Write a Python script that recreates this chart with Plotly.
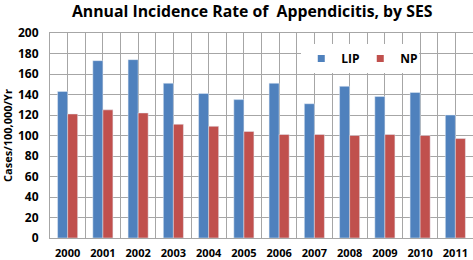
import plotly.graph_objects as go

years = ["2000", "2001", "2002", "2003", "2004", "2005", "2006", "2007", "2008", "2009", "2010", "2011"]
lip = [143, 173, 174, 151, 141, 135, 151, 131, 148, 138, 142, 120]
np_vals = [121, 125, 122, 111, 109, 104, 101, 101, 100, 101, 100, 97]
y_ticks = [0, 20, 40, 60, 80, 100, 120, 140, 160, 180, 200]

BLUE = "#4F81BD"
RED = "#C0504D"
GRID = "#A6A6A6"
FONT = "Open Sans"

xs = [int(y) for y in years]

fig = go.Figure()
fig.add_trace(go.Bar(x=xs, y=lip, name="LIP", marker_color=BLUE, showlegend=False))
fig.add_trace(go.Bar(x=xs, y=np_vals, name="NP", marker_color=RED, showlegend=False))
# legend proxies with small square markers
fig.add_trace(go.Scatter(x=[None], y=[None], mode="markers", name="<b>LIP</b>",
                         marker=dict(symbol="square", size=7, color=BLUE)))
fig.add_trace(go.Scatter(x=[None], y=[None], mode="markers", name="<b>NP</b>",
                         marker=dict(symbol="square", size=7, color=RED)))

fig.update_layout(
    width=473, height=260,
    margin=dict(l=50, r=0, t=33, b=22, autoexpand=False),
    paper_bgcolor="white", plot_bgcolor="white",
    barmode="group", bargap=0.43, bargroupgap=0,
    font=dict(family=FONT, color="black"),
    title=dict(text="<b>Annual Incidence Rate of&nbsp; Appendicitis, by SES</b>",
               xref="paper", x=0.478, xanchor="center", y=0.955, yanchor="middle",
               font=dict(size=15.8, family=FONT)),
    legend=dict(orientation="h", x=0.594, y=0.946, xanchor="left", yanchor="top",
                bgcolor="white", font=dict(size=12, family=FONT),
                entrywidth=14, entrywidthmode="pixels", itemwidth=30),
    xaxis=dict(range=[1999.5, 2011.5], tickvals=xs, ticktext=[f"<b>{y}</b>" for y in years],
               showgrid=True, gridcolor=GRID, gridwidth=1,
               minor=dict(dtick=0.5, tick0=1999.5, showgrid=True, gridcolor=GRID, gridwidth=1),
               showline=True, linecolor=GRID, mirror=True, ticks="",
               tickfont=dict(size=11, family=FONT), zeroline=False, ticklabelstandoff=5),
    yaxis=dict(range=[0, 200], tickvals=y_ticks, ticktext=[f"<b>{v}</b>" for v in y_ticks],
               showgrid=True, gridcolor=GRID, gridwidth=1,
               showline=True, linecolor=GRID, mirror=True, ticks="",
               tickfont=dict(size=12, family=FONT), zeroline=False, ticklabelstandoff=8,
               title=dict(text="<b>Cases/100,000/Yr</b>", font=dict(size=11, family=FONT), standoff=8)),
)

fig.write_html("out.html", config={"displayModeBar": False},
               post_script="document.body.style.margin='0';")
